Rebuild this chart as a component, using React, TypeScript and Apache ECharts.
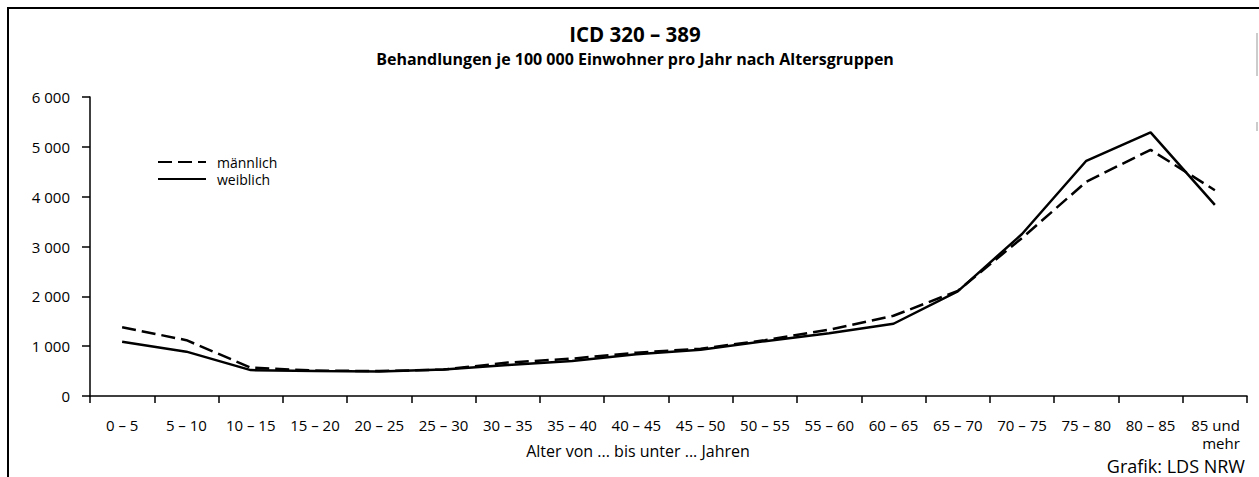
import React, { useEffect, useRef } from "react";
import * as echarts from "echarts";

const categories = [
  "0 – 5", "5 – 10", "10 – 15", "15 – 20", "20 – 25", "25 – 30", "30 – 35", "35 – 40",
  "40 – 45", "45 – 50", "50 – 55", "55 – 60", "60 – 65", "65 – 70", "70 – 75", "75 – 80",
  "80 – 85", "85 und mehr",
];
const maleValues = [1380, 1120, 570, 510, 500, 530, 670, 750, 870, 950, 1120, 1330, 1610, 2110, 3170, 4300, 4940, 4130];
const femaleValues = [1090, 890, 520, 500, 490, 530, 620, 700, 840, 930, 1100, 1260, 1450, 2100, 3250, 4720, 5290, 3835];
const seriesNames = ["männlich", "weiblich"];
const titleText = "ICD 320 – 389";
const subtitleText = "Behandlungen je 100 000 Einwohner pro Jahr nach Altersgruppen";
const xAxisTitle = "Alter von ... bis unter ... Jahren";
const sourceText = "Grafik: LDS NRW";

const FONT = "'Open Sans', 'Noto Sans', sans-serif";
const FS = 15;

export default function App() {
  const ref = useRef<HTMLDivElement>(null);
  useEffect(() => {
    if (!ref.current) return;
    const chart = echarts.init(ref.current, null, { renderer: "svg" });
    chart.setOption({
      animation: false,
      backgroundColor: "#ffffff",
      textStyle: { fontFamily: FONT, color: "#000" },
      title: [
        {
          text: titleText,
          left: 635,
          top: 24,
          padding: 0,
          textAlign: "center",
          textStyle: { fontFamily: FONT, fontSize: 20.5, fontWeight: "bold", color: "#000", lineHeight: 20 },
        },
        {
          text: subtitleText,
          left: 635,
          top: 51,
          padding: 0,
          textAlign: "center",
          textStyle: { fontFamily: FONT, fontSize: 16, fontWeight: "bold", color: "#000", lineHeight: 16 },
        },
      ],
      legend: {
        orient: "vertical",
        left: 152,
        top: 150,
        itemWidth: 48,
        itemHeight: 14,
        itemGap: 3,
        itemStyle: { opacity: 0 },
        textStyle: { fontFamily: FONT, fontSize: 14, color: "#000", padding: [0, 0, 0, 6], lineHeight: 14 },
        data: seriesNames,
      },
      grid: { left: 90, right: 12, top: 97, bottom: 81, containLabel: false },
      xAxis: {
        type: "category",
        data: categories,
        boundaryGap: true,
        axisLine: { lineStyle: { color: "#000", width: 1.5 } },
        axisTick: { show: true, length: 7, lineStyle: { color: "#000", width: 1.5 } },
        axisLabel: {
          interval: 0,
          margin: 20,
          fontFamily: FONT,
          fontSize: FS,
          color: "#000",
          lineHeight: 18,
          formatter: (v: string) => (v === "85 und mehr" ? "{r|85 und}\n{r|mehr}" : v),
          rich: {
            r: { fontFamily: FONT, fontSize: FS, color: "#000", width: 50, align: "right", lineHeight: 18 },
          },
        },
      },
      yAxis: {
        type: "value",
        min: 0,
        max: 6000,
        interval: 1000,
        splitLine: { show: false },
        axisLine: { show: true, lineStyle: { color: "#000", width: 1.5 } },
        axisTick: { show: true, length: 8, lineStyle: { color: "#000", width: 1.5 } },
        axisLabel: {
          margin: 20,
          fontFamily: FONT,
          fontSize: FS,
          color: "#000",
          formatter: (v: number) => String(v).replace(/\B(?=(\d{3})+(?!\d))/g, " "),
        },
      },
      series: [
        {
          name: seriesNames[0],
          type: "line",
          data: maleValues,
          symbol: "none",
          lineStyle: { color: "#000", width: 2.5, type: [14, 6] },
          itemStyle: { color: "#000" },
        },
        {
          name: seriesNames[1],
          type: "line",
          data: femaleValues,
          symbol: "none",
          lineStyle: { color: "#000", width: 2.5, type: "solid" },
          itemStyle: { color: "#000" },
        },
      ],
      graphic: [
        { type: "line", shape: { x1: 7, y1: 8, x2: 1259, y2: 8 }, style: { stroke: "#000", lineWidth: 2 } },
        { type: "line", shape: { x1: 8, y1: 8, x2: 8, y2: 477 }, style: { stroke: "#000", lineWidth: 2 } },
        { type: "line", shape: { x1: 1257, y1: 33, x2: 1257, y2: 76 }, style: { stroke: "#bbb", lineWidth: 1.5 } },
        { type: "line", shape: { x1: 1257, y1: 122, x2: 1257, y2: 131 }, style: { stroke: "#bbb", lineWidth: 1.5 } },
        {
          type: "text",
          x: 638,
          y: 451,
          style: { text: xAxisTitle, fontFamily: FONT, fontSize: 16, fill: "#000", align: "center", verticalAlign: "middle" },
        },
        {
          type: "text",
          x: 1245,
          y: 466,
          style: { text: sourceText, fontFamily: FONT, fontSize: 18, fill: "#000", align: "right", verticalAlign: "middle" },
        },
      ],
    });
    return () => chart.dispose();
  }, []);
  return <div ref={ref} style={{ position: "absolute", left: 0, top: 0, width: 1259, height: 477 }} />;
}
